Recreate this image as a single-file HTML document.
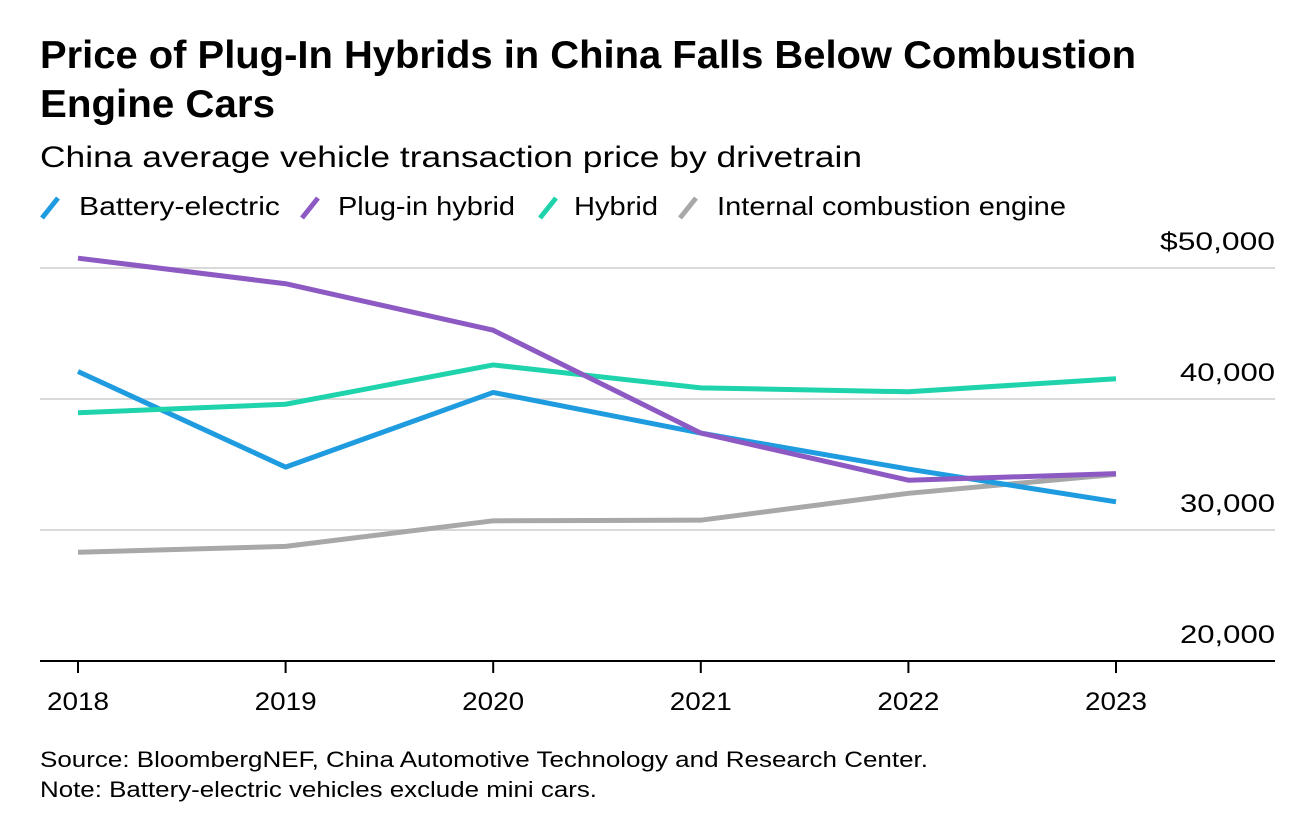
<!DOCTYPE html>
<html><head><meta charset="utf-8"><style>
body{margin:0;width:1306px;height:834px;background:#fff;font-family:"Liberation Sans",sans-serif;overflow:hidden}
</style></head><body>
<svg width="1306" height="834">
<text x="40" y="68" font-size="39" font-weight="bold" fill="#000" textLength="1096" lengthAdjust="spacingAndGlyphs">Price of Plug-In Hybrids in China Falls Below Combustion</text>
<text x="40" y="117" font-size="39" font-weight="bold" fill="#000" textLength="235" lengthAdjust="spacingAndGlyphs">Engine Cars</text>
<text x="40" y="167" font-size="30" fill="#000" textLength="822" lengthAdjust="spacingAndGlyphs">China average vehicle transaction price by drivetrain</text>
<g id="legend"></g>
<g id="grid"></g><g id="lines"></g><g id="xt"></g>
<text x="40" y="767" font-size="22" fill="#000" textLength="888" lengthAdjust="spacingAndGlyphs">Source: BloombergNEF, China Automotive Technology and Research Center.</text>
<text x="40" y="797" font-size="22" fill="#000" textLength="557" lengthAdjust="spacingAndGlyphs">Note: Battery-electric vehicles exclude mini cars.</text>
</svg>
<script>
const years=[2018,2019,2020,2021,2022,2023];
const bev=[42100,34800,40500,37400,34650,32150];
const phev=[50750,48800,45250,37400,33800,34300];
const hybrid=[38950,39600,42600,40850,40550,41550];
const ice=[28300,28750,30700,30750,32800,34250];
const yTicks=[50000,40000,30000,20000];
const yTickLabels=["$50,000","40,000","30,000","20,000"];
const seriesNames=["Battery-electric","Plug-in hybrid","Hybrid","Internal combustion engine"];
const colors=["#1f9ce0","#8d59c3","#1fd3ad","#a8a8a8"];
const NS="http://www.w3.org/2000/svg";
const X=i=>78+i*(1116-78)/(years.length-1);
const Y=v=>661-(v-20000)/10000*131;
function mk(t,a,p){const e=document.createElementNS(NS,t);for(const k in a)e.setAttribute(k,a[k]);p.appendChild(e);return e;}
const grid=document.getElementById('grid');
yTicks.forEach((v,i)=>{
  if(v>20000){const l=mk('line',{x1:40,x2:1275,y1:Y(v),y2:Y(v),stroke:'#d9d9d9','stroke-width':2},grid);
  
  }
  const w=i===0?115:95;
  const t=mk('text',{x:1275-w,y:Y(v)-18,'font-size':25,fill:'#000',textLength:w,lengthAdjust:'spacingAndGlyphs'},grid);t.textContent=yTickLabels[i];
  
  
});
const ax=mk('line',{x1:40,x2:1275,y1:661,y2:661,stroke:'#000','stroke-width':2},grid);


const xt=document.getElementById('xt');
years.forEach((y,i)=>{
  mk('line',{x1:X(i),x2:X(i),y1:661,y2:673,stroke:'#000','stroke-width':2},xt);
  const t=mk('text',{x:X(i)-31,y:710,'font-size':25,fill:'#000',textLength:62,lengthAdjust:'spacingAndGlyphs'},xt);t.textContent=y;
  
  
});
const lines=document.getElementById('lines');
[ice,bev,hybrid,phev].forEach((s)=>{
  const idx=[bev,phev,hybrid,ice].indexOf(s);
  const p=mk('polyline',{points:s.map((v,i)=>X(i)+','+Y(v)).join(' '),fill:'none',stroke:colors[idx],'stroke-width':5,'stroke-linejoin':'round'},lines);
  
  
});
const lg=document.getElementById('legend');
const lx=[42,302,540,680];
const tx=[79,338,574,717];
const tw=[201,177,84,349];
seriesNames.forEach((n,i)=>{
  const g=mk('g',{},lg);
  
  
  mk('line',{x1:lx[i],y1:218,x2:lx[i]+16,y2:198,stroke:colors[i],'stroke-width':5},g);
  const t=mk('text',{x:tx[i],y:215,'font-size':26,fill:'#000',textLength:tw[i],lengthAdjust:'spacingAndGlyphs'},g);t.textContent=n;
});
</script>
</body></html>
